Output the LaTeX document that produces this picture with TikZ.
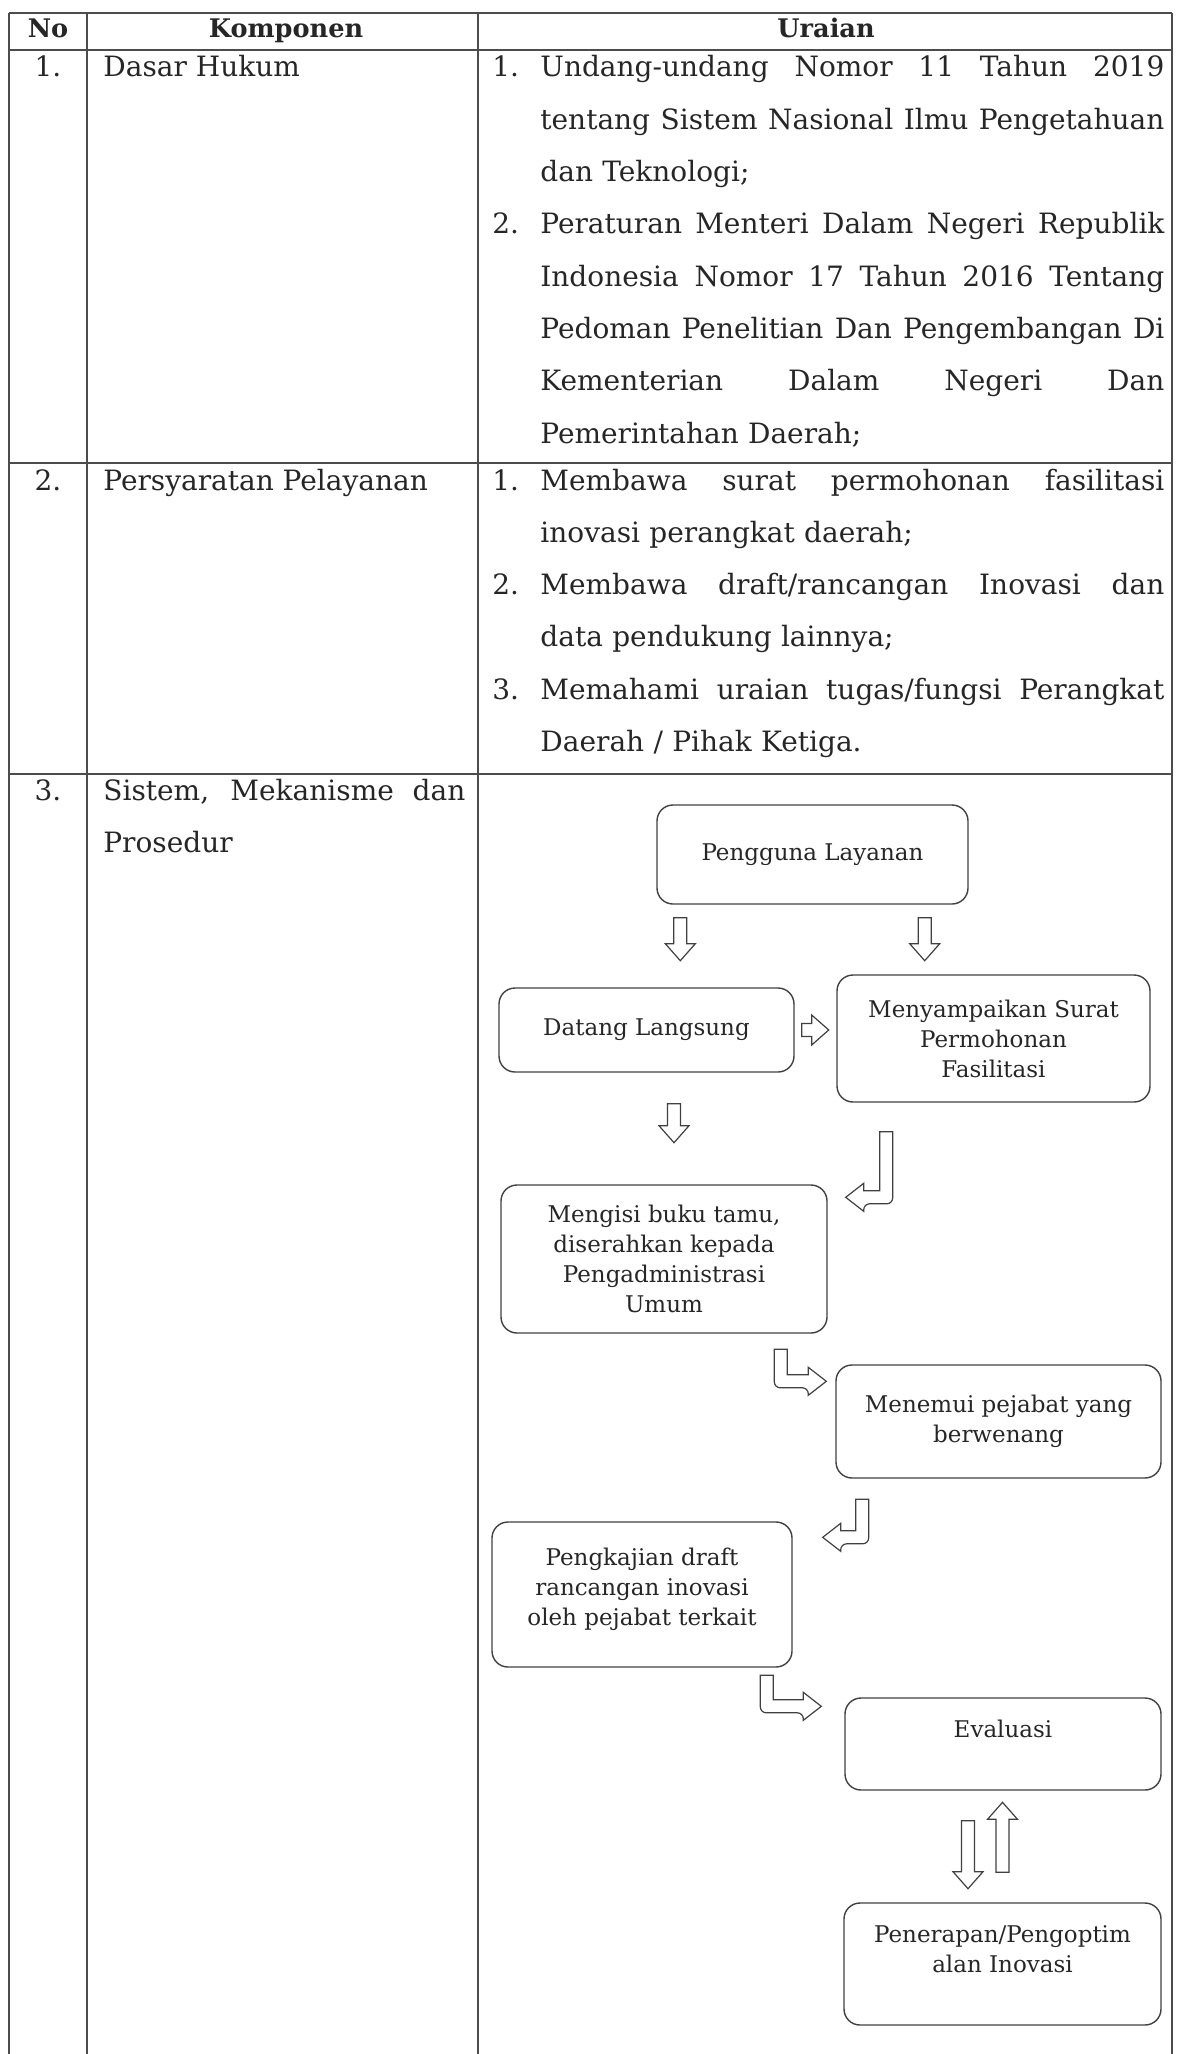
\documentclass[tikz,border=0pt]{standalone}
\usepackage{fontspec}
\setmainfont{DejaVu Serif}
\usetikzlibrary{calc}
\newcommand{\itemno}[1]{\makebox[24pt][l]{#1}}
\newcommand{\jbox}[2]{\leavevmode\hbox to #1{\spaceskip=0.32em plus 1fil\relax#2}}
\newcommand{\jline}[1]{\jbox{312pt}{#1}}
\newcommand{\hang}{\hspace*{24pt}}

\begin{document}
\begin{tikzpicture}[x=0.5pt,y=-0.5pt,
    tableline/.style={draw=black!70,line width=0.7pt},
    cell/.style={inner sep=0pt,anchor=base west,align=left,text=black!85,font=\fontsize{14}{26.15}\selectfont},
    nocell/.style={inner sep=0pt,anchor=base,text=black!85,font=\fontsize{14}{26.15}\selectfont},
    head/.style={inner sep=0pt,anchor=base,text=black!85,font=\bfseries\fontsize{12.8}{15}\selectfont},
    box/.style={draw=black!75,line width=0.7pt,rounded corners=8pt,align=center,text=black!85,font=\fontsize{11.5}{15}\selectfont},
    arrowline/.style={draw=black!75,line width=0.6pt,fill=white},
    pics/blk/.style={code={
      \draw[arrowline] (-6.5,0) -- (6.5,0) -- (6.5,{#1-17}) -- (15,{#1-17}) -- (0,#1) -- (-15,{#1-17}) -- (-6.5,{#1-17}) -- cycle;
    }},
    pics/elbow/.style 2 args={code={
      \draw[arrowline] (0,0) -- (18,-14) -- (18,-6.5) -- ({#1-13},-6.5) -- ({#1-13},{6.5-#2}) -- (#1,{6.5-#2}) [rounded corners=3pt] -- (#1,6.5) -- (18,6.5) [sharp corners] -- (18,14) -- cycle;
    }}]

    \useasboundingbox (0,0) rectangle (1179,2054);

    % table grid
    \foreach \y in {13,50,463,774}
      \draw[tableline] (9,\y) -- (1172,\y);
    \foreach \x in {9,87,478,1172}
      \draw[tableline] (\x,13) -- (\x,2054);

    \node[head] (hdrno) at (48,38) {No};
    \node[head] (hdrkomp) at (286,38) {Komponen};
    \node[head] (hdrurai) at (826,38) {Uraian};

    \node[nocell] (no1) at (48,77) {1.};
    \node[nocell] (no2) at (48,490) {2.};
    \node[nocell] (no3) at (48,800) {3.};

    \node[cell] (komp1) at (103,77) {Dasar Hukum};
    \node[cell] (komp2) at (103,490) {Persyaratan Pelayanan};
    \node[cell,text width=181pt] (komp3) at (103,800)
      {\jbox{181pt}{Sistem, Mekanisme dan}\\Prosedur};

    \node[cell,text width=336pt] (urai1) at (492,77) {%
      \itemno{1.}\jline{Undang-undang Nomor 11 Tahun 2019}\\
      \hang\jline{tentang Sistem Nasional Ilmu Pengetahuan}\\
      \hang dan Teknologi;\\
      \itemno{2.}\jline{Peraturan Menteri Dalam Negeri Republik}\\
      \hang\jline{Indonesia Nomor 17 Tahun 2016 Tentang}\\
      \hang\jline{Pedoman Penelitian Dan Pengembangan Di}\\
      \hang\jline{Kementerian Dalam Negeri Dan}\\
      \hang Pemerintahan Daerah;};

    \node[cell,text width=336pt] (urai2) at (492,490) {%
      \itemno{1.}\jline{Membawa surat permohonan fasilitasi}\\
      \hang inovasi perangkat daerah;\\
      \itemno{2.}\jline{Membawa draft/rancangan Inovasi dan}\\
      \hang data pendukung lainnya;\\
      \itemno{3.}\jline{Memahami uraian tugas/fungsi Perangkat}\\
      \hang Daerah / Pihak Ketiga.};

    % flow of the service
    \node[box,minimum width=155.5pt,minimum height=49.5pt] (user) at (812.5,854.5) {Pengguna Layanan};
    \node[box,minimum width=147.5pt,minimum height=42pt] (datang) at (646.5,1030) {Datang Langsung};
    \node[box,minimum width=156.5pt,minimum height=63.5pt] (surat) at (993.5,1038.5) {Menyampaikan Surat\\Permohonan\\Fasilitasi};
    \node[box,minimum width=163pt,minimum height=74pt] (tamu) at (664,1259) {Mengisi buku tamu,\\diserahkan kepada\\Pengadministrasi\\Umum};
    \node[box,minimum width=162.5pt,minimum height=56.5pt] (pejabat) at (998.5,1421.5) {Menemui pejabat yang\\berwenang};
    \node[box,minimum width=150pt,minimum height=72.5pt] (kaji) at (642,1594.5) {Pengkajian draft\\rancangan inovasi\\oleh pejabat terkait\\[-7.5pt]\mbox{}};
    \node[box,minimum width=158pt,minimum height=46pt] (evaluasi) at (1003,1744) {Evaluasi\\\mbox{}};
    \node[box,minimum width=158.5pt,minimum height=61pt] (terap) at (1002.5,1964) {Penerapan/Pengoptim\\alan Inovasi\\\mbox{}};

    \pic at ($(user.south west)+(24,13)$) {blk=43};
    \pic at ($(user.south east)+(-44,13)$) {blk=43};
    \pic[rotate=90] at ($(datang.east)+(7,0)$) {blk=27};
    \pic at ($(datang.south)+(27.5,31)$) {blk=39};
    \pic at ($(tamu.north east)+(18,13)$) {elbow={47}{72}};
    \pic[xscale=-1] at ($(pejabat.north west)+(-9,17)$) {elbow={52}{38.5}};
    \pic at ($(kaji.north east)+(30,16)$) {elbow={46}{44.5}};
    \pic[xscale=-1] at ($(evaluasi.north west)+(-23,9)$) {elbow={61}{37.5}};
    \pic at ($(evaluasi.south)+(-35,30)$) {blk=68};
    \pic[rotate=180] at ($(terap.north)+(0,-30)$) {blk=70};

\end{tikzpicture}
\end{document}
